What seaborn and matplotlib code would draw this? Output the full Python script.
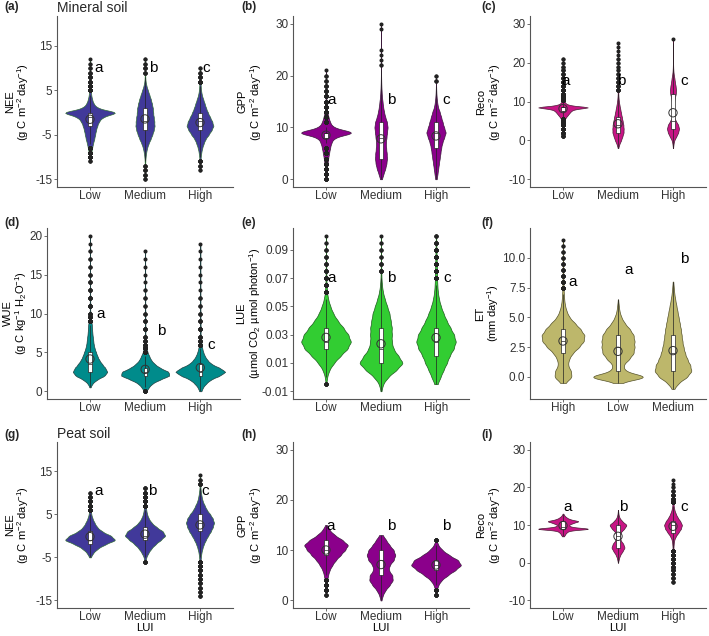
import numpy as np
import pandas as pd
import matplotlib.pyplot as plt
import seaborn as sns

# ---------------- data ----------------
# each violin = value bins + counts per bin (relative), plus the axis categories
lui_order = ['Low', 'Medium', 'High']
et_order = ['High', 'Low', 'Medium']

# (a) NEE, mineral soil
nee_min_low_v = [-11, -10, -9, -8, -7, -6, -5, -4, -3, -2, -1, 0, 1, 2, 3, 4, 5, 6, 7, 8, 9, 10, 11, 12]
nee_min_low_n = [3, 20, 45, 70, 100, 140, 170, 200, 240, 300, 420, 950, 250, 120, 70, 40, 25, 15, 10, 8, 5, 3, 2, 1]
nee_min_med_v = [-15, -14, -13, -12, -11, -10, -9, -8, -7, -6, -5, -4, -3, -2, -1, 0, 1, 2, 3, 4, 5, 6, 7, 8, 9, 10, 11, 12]
nee_min_med_n = [3, 5, 5, 5, 10, 20, 40, 70, 120, 190, 250, 300, 330, 320, 300, 280, 270, 240, 200, 150, 100, 50, 20, 10, 5, 5, 3, 2]
nee_min_high_v = [-13, -12, -11, -10, -9, -8, -7, -6, -5, -4, -3, -2, -1, 0, 1, 2, 3, 4, 5, 6, 7, 8, 9, 10]
nee_min_high_n = [2, 5, 10, 20, 35, 60, 100, 150, 240, 320, 380, 340, 280, 220, 170, 130, 90, 50, 30, 20, 12, 7, 4, 2]

# (b) GPP, mineral soil
gpp_min_low_v = [0, 1, 2, 3, 4, 5, 6, 7, 8, 9, 10, 11, 12, 13, 14, 15, 16, 17, 18, 19, 20, 21]
gpp_min_low_n = [10, 20, 30, 50, 70, 100, 130, 170, 260, 950, 230, 130, 80, 40, 20, 15, 10, 8, 6, 4, 3, 1]
gpp_min_med_v = [0, 1, 2, 3, 4, 5, 6, 7, 8, 9, 10, 11, 12, 13, 14, 15, 16, 17, 18, 19, 20, 21, 22, 23, 24, 25, 29, 30]
gpp_min_med_n = [30, 80, 140, 180, 200, 190, 170, 160, 180, 200, 220, 200, 140, 100, 70, 50, 30, 20, 12, 8, 5, 3, 2, 1, 1, 1, 1, 1]
gpp_min_high_v = [0, 1, 2, 3, 4, 5, 6, 7, 8, 9, 10, 11, 12, 13, 14, 15, 16, 17, 18, 19, 20]
gpp_min_high_n = [20, 40, 60, 80, 100, 120, 140, 170, 220, 270, 220, 180, 140, 100, 50, 30, 15, 8, 4, 3, 2]

# (c) Reco, mineral soil
reco_min_low_v = [1, 2, 3, 4, 4.5, 5, 5.5, 6, 6.5, 7, 7.5, 8, 8.5, 9, 9.5, 10, 10.5, 11, 11.5, 12,
                  13, 14, 15, 16, 17, 18, 19, 20, 21]
reco_min_low_n = [6, 10, 15, 13, 15, 20, 30, 50, 75, 100, 125, 175, 450, 110, 40, 25, 20, 15, 13, 10,
                  13, 10, 8, 6, 5, 4, 3, 2, 2]
reco_min_med_v = [-2, -1, 0, 1, 2, 3, 4, 5, 6, 7, 8, 9, 10, 11, 12, 13, 14, 15, 16, 17, 18, 19, 20, 21, 22, 23, 24, 25]
reco_min_med_n = [10, 50, 120, 170, 220, 220, 210, 180, 150, 120, 90, 60, 35, 20, 12, 8, 6, 5, 4, 3, 2, 2, 2, 2, 1, 1, 1, 1]
reco_min_high_v = [-2, -1, 0, 1, 2, 3, 4, 5, 6, 7, 8, 9, 10, 11, 12, 13, 14, 15, 16, 17, 18, 19, 20, 21, 22, 23, 24, 25, 26]
reco_min_high_n = [5, 20, 50, 140, 220, 260, 220, 120, 40, 25, 20, 30, 50, 80, 120, 130, 110, 80, 60, 30, 15, 8, 5, 3, 2, 2, 1, 1, 1]

# (d) WUE, mineral soil
wue_low_v = [0.5, 1, 1.5, 2, 2.5, 3, 3.5, 4, 4.5, 5, 5.5, 6, 6.5, 7, 7.5, 8, 8.5, 9, 9.5, 10,
             11, 12, 13, 14, 15, 16, 17, 18, 19, 20]
wue_low_n = [5, 25, 75, 160, 190, 165, 130, 100, 80, 65, 50, 40, 35, 30, 25, 23, 20, 15, 10, 8,
             10, 8, 6, 5, 4, 3, 3, 2, 1, 1]
wue_med_v = [0, 0.5, 1, 1.5, 2, 2.5, 3, 3.5, 4, 4.5, 5, 5.5, 6, 6.5, 7,
             8, 9, 10, 11, 12, 13, 14, 15, 16, 17, 18]
wue_med_n = [10, 30, 60, 125, 210, 200, 125, 80, 50, 35, 20, 13, 9, 7, 6,
             8, 6, 4, 3, 3, 2, 1, 1, 1, 1, 1]
wue_high_v = [0, 0.5, 1, 1.5, 2, 2.5, 3, 3.5, 4, 4.5, 5, 5.5, 6, 6.5, 7,
              8, 9, 10, 11, 12, 13, 14, 15, 16, 17, 18, 19]
wue_high_n = [8, 20, 45, 80, 150, 200, 150, 85, 55, 35, 23, 15, 10, 8, 7,
              9, 6, 4, 3, 3, 1, 1, 1, 1, 1, 1, 1]

# (e) LUE, mineral soil
lue_low_v = [-0.005, 0, 0.005, 0.01, 0.015, 0.02, 0.025, 0.03, 0.035, 0.04, 0.045, 0.05, 0.055,
             0.06, 0.065, 0.07, 0.075, 0.08, 0.085, 0.09, 0.095, 0.1]
lue_low_n = [8, 30, 90, 220, 400, 600, 700, 620, 480, 320, 200, 120, 60, 30, 15, 12, 8, 6, 5, 4, 2, 1]
lue_med_v = [-0.01, -0.005, 0, 0.005, 0.01, 0.015, 0.02, 0.025, 0.03, 0.035, 0.04, 0.045, 0.05,
             0.055, 0.06, 0.065, 0.07, 0.075, 0.08, 0.085, 0.09, 0.095, 0.1]
lue_med_n = [10, 50, 180, 400, 580, 450, 320, 280, 280, 280, 250, 220, 160, 100, 50, 25, 12, 8, 5, 3, 3, 2, 1]
lue_high_v = [-0.005, 0, 0.005, 0.01, 0.015, 0.02, 0.025, 0.03, 0.035, 0.04, 0.045, 0.05, 0.055,
              0.06, 0.065, 0.07, 0.075, 0.08, 0.085, 0.09, 0.095, 0.1]
lue_high_n = [40, 120, 200, 290, 360, 470, 530, 480, 380, 280, 200, 130, 80, 50, 35, 30, 25, 20, 16, 12, 8, 4]

# (f) ET, mineral soil
et_high_v = [-0.5, 0, 0.5, 1, 1.5, 2, 2.5, 3, 3.5, 4, 4.5, 5, 5.5, 6, 6.5, 7, 7.5, 8, 8.5, 9,
             9.5, 10, 10.5, 11, 11.5]
et_high_n = [60, 220, 200, 120, 150, 240, 400, 520, 540, 440, 300, 160, 90, 50, 30, 20, 14, 10, 8, 6,
             5, 4, 3, 2, 1]
et_low_v = [-0.5, 0, 0.5, 1, 1.5, 2, 2.5, 3, 3.5, 4, 4.5, 5, 5.5, 6, 6.5]
et_low_n = [60, 800, 180, 140, 300, 420, 440, 440, 420, 320, 180, 90, 40, 20, 5]
et_med_v = [-1, -0.5, 0, 0.5, 1, 1.5, 2, 2.5, 3, 3.5, 4, 4.5, 5, 5.5, 6, 6.5, 7, 7.5, 8]
et_med_n = [30, 150, 380, 500, 460, 380, 320, 280, 250, 230, 210, 180, 150, 120, 90, 60, 35, 20, 8]

# (g) NEE, peat soil
nee_peat_low_v = [-5, -4, -3, -2, -1, 0, 1, 2, 3, 4, 5, 6, 7, 8, 9, 10]
nee_peat_low_n = [15, 60, 150, 300, 520, 420, 240, 140, 90, 50, 25, 15, 12, 10, 7, 3]
nee_peat_med_v = [-6, -5, -4, -3, -2, -1, 0, 1, 2, 3, 4, 5, 6, 7, 8, 9, 10, 11]
nee_peat_med_n = [8, 30, 80, 150, 250, 380, 500, 440, 280, 160, 90, 50, 30, 20, 15, 12, 9, 5]
nee_peat_high_v = [-14, -13, -12, -11, -10, -9, -8, -7, -6, -5, -4, -3, -2, -1, 0, 1, 2, 3, 4, 5,
                   6, 7, 8, 9, 10, 11, 12, 13, 14]
nee_peat_high_n = [4, 5, 6, 6, 7, 8, 10, 12, 15, 25, 40, 70, 110, 170, 240, 320, 380, 420, 380, 300,
                   200, 140, 80, 50, 30, 15, 8, 3, 1]

# (h) GPP, peat soil
gpp_peat_low_v = [1, 2, 3, 4, 5, 6, 7, 8, 9, 10, 11, 12, 13, 14, 15]
gpp_peat_low_n = [5, 15, 25, 35, 60, 100, 180, 280, 420, 550, 650, 480, 250, 100, 20]
gpp_peat_med_v = [0, 1, 2, 3, 4, 5, 6, 7, 8, 9, 10, 11, 12, 13]
gpp_peat_med_n = [10, 40, 100, 200, 280, 270, 180, 200, 300, 340, 300, 200, 120, 40]
gpp_peat_high_v = [1, 2, 3, 4, 5, 6, 7, 8, 9, 10, 11, 12]
gpp_peat_high_n = [8, 15, 40, 100, 220, 360, 480, 420, 250, 120, 40, 10]

# (i) Reco, peat soil
reco_peat_low_v = [7, 7.5, 8, 8.5, 9, 9.5, 10, 10.5, 11, 11.5, 12, 12.5, 13]
reco_peat_low_n = [15, 30, 50, 90, 420, 110, 80, 140, 240, 100, 50, 20, 5]
reco_peat_med_v = [0, 1, 2, 3, 4, 5, 6, 7, 8, 9, 10, 11, 12, 13, 14]
reco_peat_med_n = [5, 40, 100, 220, 330, 260, 120, 80, 120, 300, 440, 200, 60, 20, 5]
reco_peat_high_v = [-5, -4, -3, -2, -1, 0, 1, 2, 3, 4, 5, 6, 7, 8, 9, 10, 11, 12, 13, 14,
                    15, 16, 17, 18, 19, 20, 21, 22]
reco_peat_high_n = [3, 5, 6, 7, 8, 10, 12, 14, 17, 20, 30, 50, 120, 240, 350, 400, 320, 200, 120, 60,
                    30, 15, 10, 7, 4, 2, 1, 1]

# significance letters per panel
letters_a = ['a', 'b', 'c']
letters_f = ['a', 'a', 'b']
letters_h = ['a', 'b', 'b']

# ---------------- style ----------------
sns.set_style('ticks')
plt.rcParams['font.family'] = ['Liberation Sans', 'DejaVu Sans']
plt.rcParams['mathtext.fontset'] = 'custom'
plt.rcParams['mathtext.rm'] = 'Liberation Sans'
plt.rcParams['mathtext.default'] = 'regular'
plt.rcParams['axes.unicode_minus'] = False

TXT = '#333333'
AXC = '#555555'


def grid_bw(kde):
    # bandwidth tied to the bin step of the tabulated values
    pts = np.unique(kde.dataset)
    step = np.median(np.diff(pts))
    return 0.5 * step / kde.dataset.std(ddof=1)


def long_df(order, groups):
    parts = []
    for cat, (v, n) in zip(order, groups):
        parts.append(pd.DataFrame({'LUI': cat, 'val': np.repeat(np.asarray(v, float), n)}))
    return pd.concat(parts, ignore_index=True)


def draw_panel(ax, order, groups, color, edge, ylabel, label_x, ylim, yticks, yticklabels,
               letters, letter_dx, letter_y, xlim=(-0.6, 2.6), show_lui=False):
    df = long_df(order, groups)
    sns.violinplot(data=df, x='LUI', y='val', order=order, color=color, saturation=1,
                   inner=None, cut=0, density_norm='area', width=0.9, linewidth=0.5,
                   linecolor=edge, bw_method=grid_bw, ax=ax)
    sns.boxplot(data=df, x='LUI', y='val', order=order, color='white', saturation=1,
                width=0.06, linecolor='#222222', linewidth=0.5, fliersize=1.9, showcaps=False,
                flierprops=dict(marker='o', markerfacecolor='#222222', markeredgecolor='#222222'),
                ax=ax)
    means = df.groupby('LUI')['val'].mean().reindex(order)
    ax.scatter(np.arange(len(order)), means.values, s=36, facecolors='none',
               edgecolors='#333333', linewidths=0.7, zorder=6)
    for i, (lt, dx, y) in enumerate(zip(letters, letter_dx, letter_y)):
        ax.text(i + dx, y, lt, fontsize=11, color='black', ha='center', va='center')
    ax.set_xlim(*xlim)
    ax.set_ylim(*ylim)
    ax.set_yticks(yticks)
    ax.set_yticklabels(yticklabels)
    ax.set_ylabel(ylabel, fontsize=8, color='black', linespacing=1.05)
    ax.yaxis.set_label_coords(label_x, 0.5)
    ax.set_xlabel('LUI' if show_lui else '', fontsize=8.2, color='black', labelpad=0)
    ax.tick_params(labelsize=8.5, labelcolor=TXT, color=AXC, length=2.5, width=0.6, pad=0.8)
    ax.tick_params(axis='x', length=2, pad=0)
    for s in ['left', 'bottom']:
        ax.spines[s].set_color(AXC)
        ax.spines[s].set_linewidth(0.8)
    sns.despine(ax=ax)


fig = plt.figure(figsize=(7.09, 6.36), dpi=100)
W, H = 709, 636


def add_ax(left, top, width=176, height=171):
    return fig.add_axes([left / W, 1 - (top + height) / H, width / W, height / H])


nee_lab = 'NEE\n(g C m$^{-2}$ day$^{-1}$)'
gpp_lab = 'GPP\n(g C m$^{-2}$ day$^{-1}$)'
reco_lab = 'Reco\n(g C m$^{-2}$ day$^{-1}$)'
nee_ticks = [-15, -5, 5, 15]
gpp_ticks = [0, 10, 20, 30]
reco_ticks = [-10, 0, 10, 20, 30]

ax = add_ax(57, 16)
draw_panel(ax, lui_order,
           [(nee_min_low_v, nee_min_low_n), (nee_min_med_v, nee_min_med_n), (nee_min_high_v, nee_min_high_n)],
           '#41399a', '#2f6b35', nee_lab, -0.146, (-16.75, 21.75), nee_ticks, [str(t) for t in nee_ticks],
           letters_a, [0.15, 0.15, 0.12], [10, 10, 10])

ax = add_ax(293, 16)
draw_panel(ax, lui_order,
           [(gpp_min_low_v, gpp_min_low_n), (gpp_min_med_v, gpp_min_med_n), (gpp_min_high_v, gpp_min_high_n)],
           '#8b008b', '#3a1a3a', gpp_lab, -0.167, (-1.5, 31.5), gpp_ticks, [str(t) for t in gpp_ticks],
           letters_a, [0.1, 0.19, 0.19], [15.3, 15.3, 15.3])

ax = add_ax(530, 16)
draw_panel(ax, lui_order,
           [(reco_min_low_v, reco_min_low_n), (reco_min_med_v, reco_min_med_n), (reco_min_high_v, reco_min_high_n)],
           '#c71585', '#4a1a35', reco_lab, -0.155, (-12, 32), reco_ticks, [str(t) for t in reco_ticks],
           letters_a, [0.05, 0.05, 0.21], [15.2, 15.2, 15.2])

ax = add_ax(47, 228, width=193)
draw_panel(ax, lui_order,
           [(wue_low_v, wue_low_n), (wue_med_v, wue_med_n), (wue_high_v, wue_high_n)],
           '#008b8b', '#1f3f3f', 'WUE\n(g C kg$^{-1}$ H$_2$O$^{-1}$)', -0.092, (-1, 21),
           [0, 5, 10, 15, 20], ['0', '5', '10', '15', '20'],
           letters_a, [0.2, 0.29, 0.2], [10, 7.8, 6], xlim=(-0.78, 2.72))

lue_ticks = [-0.01, 0.01, 0.03, 0.05, 0.07, 0.09]
ax = add_ax(293, 228)
draw_panel(ax, lui_order,
           [(lue_low_v, lue_low_n), (lue_med_v, lue_med_n), (lue_high_v, lue_high_n)],
           '#32cd32', '#1e5a1e', 'LUE\n(µmol CO$_2$ µmol photon$^{-1}$)', -0.172, (-0.0155, 0.1055),
           lue_ticks, ['-0.01', '0.01', '0.03', '0.05', '0.07', '0.09'],
           letters_a, [0.1, 0.19, 0.21], [0.07, 0.07, 0.07])

ax = add_ax(530, 228)
draw_panel(ax, et_order,
           [(et_high_v, et_high_n), (et_low_v, et_low_n), (et_med_v, et_med_n)],
           '#bdb76b', '#55522a', 'ET\n(mm day$^{-1}$)', -0.162, (-1.85, 12.5),
           [0, 2.5, 5, 7.5, 10], ['0.0', '2.5', '5.0', '7.5', '10.0'],
           letters_f, [0.18, 0.2, 0.2], [8, 9, 9.9])

ax = add_ax(57, 442, height=166)
draw_panel(ax, lui_order,
           [(nee_peat_low_v, nee_peat_low_n), (nee_peat_med_v, nee_peat_med_n), (nee_peat_high_v, nee_peat_high_n)],
           '#41399a', '#2f6b35', nee_lab, -0.146, (-16.75, 21.75), nee_ticks, [str(t) for t in nee_ticks],
           letters_a, [0.15, 0.14, 0.1], [10.3, 10.3, 10.3], show_lui=True)

ax = add_ax(293, 442, height=166)
draw_panel(ax, lui_order,
           [(gpp_peat_low_v, gpp_peat_low_n), (gpp_peat_med_v, gpp_peat_med_n), (gpp_peat_high_v, gpp_peat_high_n)],
           '#8b008b', '#3a1a3a', gpp_lab, -0.167, (-1.5, 31.5), gpp_ticks, [str(t) for t in gpp_ticks],
           letters_h, [0.09, 0.19, 0.19], [14.8, 14.8, 14.8], show_lui=True)

ax = add_ax(530, 442, height=166)
draw_panel(ax, lui_order,
           [(reco_peat_low_v, reco_peat_low_n), (reco_peat_med_v, reco_peat_med_n), (reco_peat_high_v, reco_peat_high_n)],
           '#c71585', '#4a1a35', reco_lab, -0.155, (-12, 32), reco_ticks, [str(t) for t in reco_ticks],
           letters_a, [0.09, 0.09, 0.21], [14.8, 14.8, 14.8], show_lui=True)

# panel tags and soil titles
tags = [('(a)', 4, 7), ('(b)', 241, 7), ('(c)', 481, 7),
        ('(d)', 4, 223), ('(e)', 241, 223), ('(f)', 481, 223),
        ('(g)', 4, 435), ('(h)', 241, 435), ('(i)', 481, 435)]
for t, x, y in tags:
    fig.text(x / W, 1 - y / H, t, fontsize=8.5, fontweight='bold', va='center', ha='left')
fig.text(57 / W, 1 - 7.5 / H, 'Mineral soil', fontsize=10, va='center', ha='left')
fig.text(57 / W, 1 - 434 / H, 'Peat soil', fontsize=10, va='center', ha='left')

fig.savefig('out.png', dpi=100)
